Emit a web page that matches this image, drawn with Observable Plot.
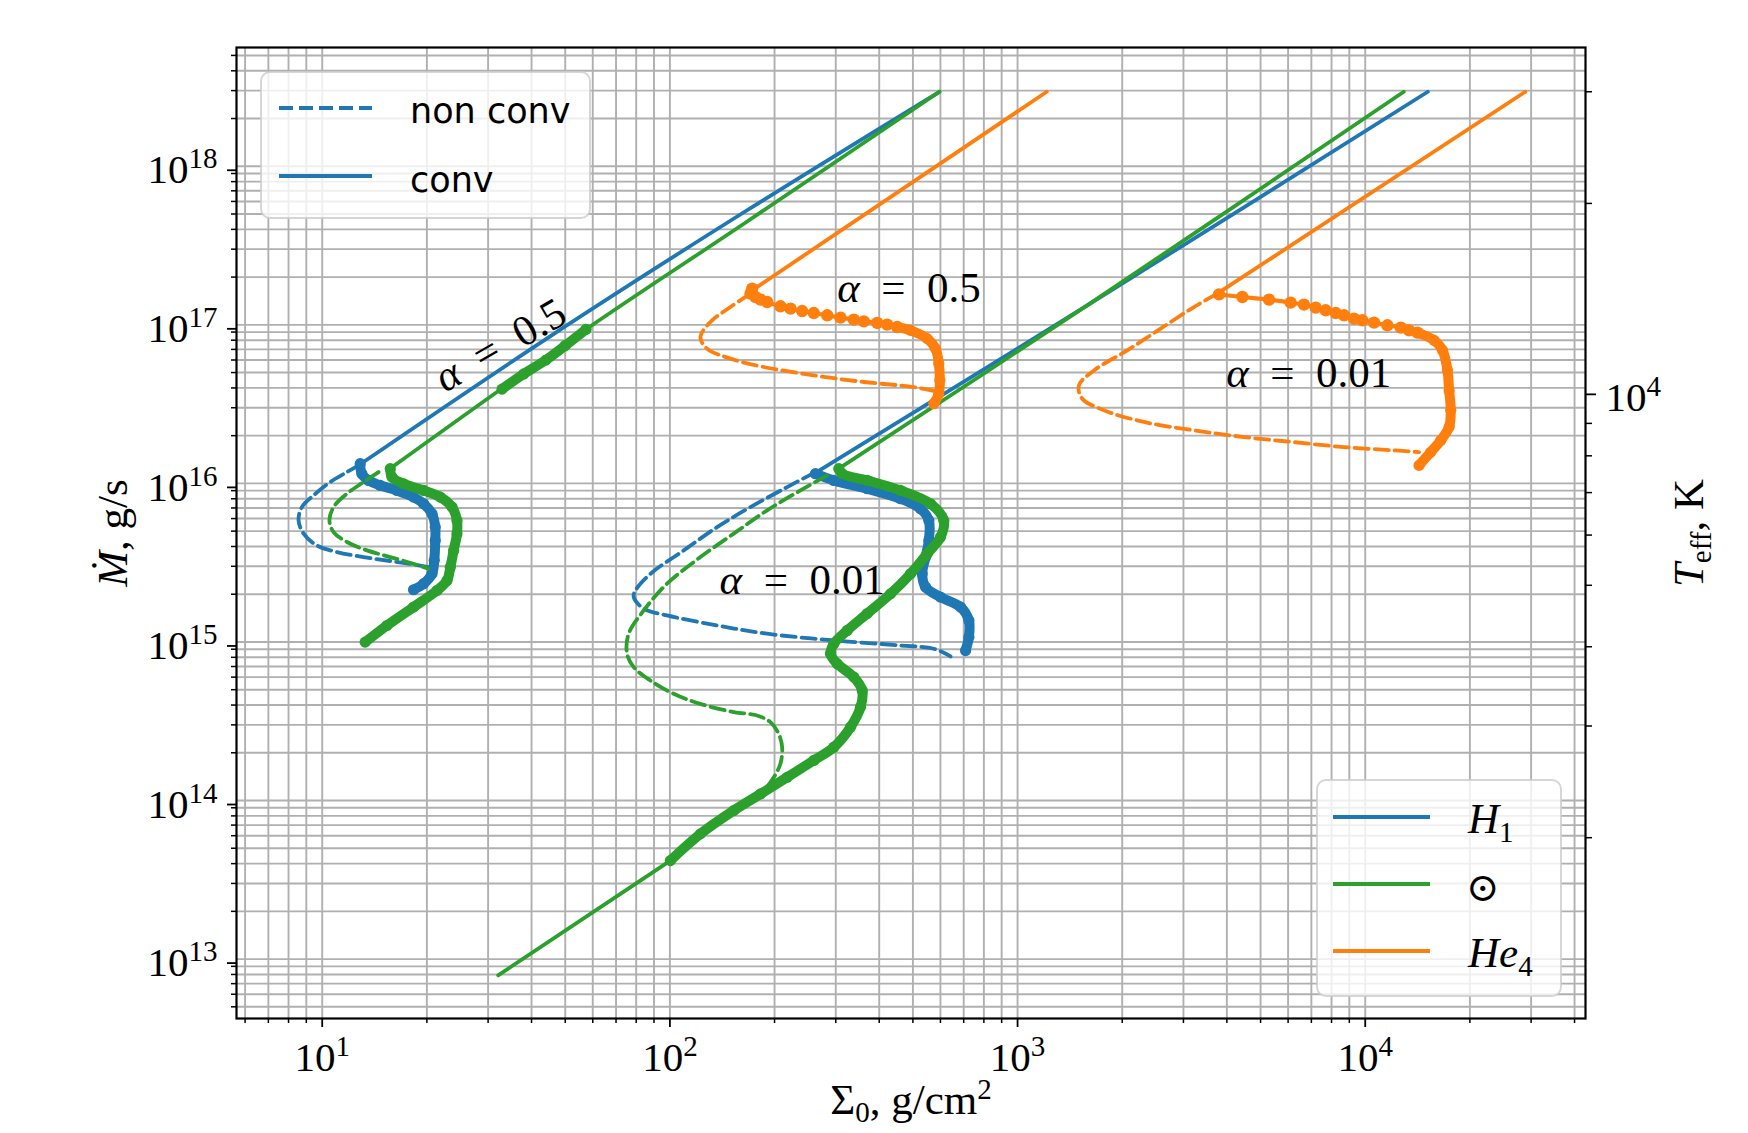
<!DOCTYPE html>
<html><head><meta charset="utf-8">
<script src="https://cdn.jsdelivr.net/npm/d3@7"></script>
<script src="https://cdn.jsdelivr.net/npm/@observablehq/plot@0.6"></script>
<style>
html,body{margin:0;padding:0;background:#fff;overflow:hidden;}
#wrap{position:relative;width:1748px;height:1133px;overflow:hidden;}
#wrap svg{position:absolute;left:0;top:0;}
</style></head><body><div id="wrap"></div>
<script>
// ---------- colours ----------
const blue = "#1f77b4", orange = "#ff7f0e", green = "#2ca02c";

// ---------- data : [Sigma0 (g/cm^2), Mdot (g/s)] ----------
// alpha = 0.5, H1
const h1_a05_nonconv = [[12.86,1.32e16],[11.78,1.178e16],[10.54,1.019e16],[9.44,8.4e15],[8.74,7.09e15],[8.55,5.84e15],[8.84,4.82e15],[9.65,4.06e15],[11.02,3.69e15],[13.15,3.43e15],[15.69,3.24e15],[18.31,3.08e15],[20.2,2.96e15]];
const h1_a05_conv = [[12.86,1.32e16],[45.7,8.59e16],[162.4,5.09e17],[596,2.95e18]];
const h1_a05_band = [[12.86,1.332e16],[13.0,1.151e16],[13.59,1.044e16],[14.69,9.71e15],[16.4,9.03e15],[18.31,8.19e15],[19.57,7.44e15],[20.69,6.44e15],[21.14,5.30e15],[21.14,4.37e15],[21.0,3.27e15],[20.69,2.69e15],[19.57,2.33e15],[18.31,2.135e15]];
// alpha = 0.5, solar
const sun_a05_nonconv = [[14.52,1.178e16],[13.15,1.019e16],[11.78,8.61e15],[10.78,7.09e15],[10.49,5.84e15],[10.78,4.93e15],[11.78,4.27e15],[13.45,3.78e15],[15.69,3.43e15],[18.31,3.11e15],[20.2,2.9e15]];
const sun_a05_conv = [[15.7,1.243e16],[57.4,9.37e16],[162.4,4.31e17],[596,2.95e18]];
const sun_a05_band = [[15.69,1.238e16],[15.87,1.096e16],[17.14,9.95e15],[19.57,9.03e15],[21.86,8.19e15],[23.62,7.09e15],[24.41,5.84e15],[24.41,4.82e15],[23.88,3.78e15],[23.36,2.96e15],[22.85,2.44e15],[21.38,2.11e15],[18.31,1.66e15],[15.35,1.27e15],[13.29,9.97e14]];
const sun_a05_band2 = [[32.9,3.93e16],[38,4.9e16],[44,6.0e16],[50,7.4e16],[57.4,9.37e16]];
// alpha = 0.5, He4
const he_a05_nonconv = [[170.5,1.573e17],[149.3,1.295e17],[130.8,1.042e17],[122.4,8.38e16],[127.9,7.08e16],[149.3,6.12e16],[186.2,5.42e16],[259.3,4.80e16],[361.2,4.36e16],[503.0,4.05e16],[593.6,3.77e16]];
const he_a05_conv = [[176,1.70e17],[1213,2.95e18]];
const he_a05_dots = [[172.4,1.692e17],[170.5,1.573e17],[176.2,1.498e17],[182.2,1.442e17],[190.4,1.393e17],[208,1.309e17],[222.3,1.265e17],[240.1,1.222e17],[259.3,1.187e17],[283.5,1.148e17],[309.5,1.110e17],[338,1.079e17],[361.2,1.052e17],[394.8,1.027e17],[421.7,1.003e17],[450.6,9.68e16]];
const he_a05_band = [[450.6,9.68e16],[492.2,9.23e16],[549.7,8.18e16],[580.8,7.08e16],[593.6,5.69e16],[597.6,4.47e16],[593.6,3.68e16],[574.2,3.18e16]];
// alpha = 0.01, H1
const h1_a001_nonconv = [[262.2,1.178e16],[217.4,9.48e15],[170.5,7.09e15],[136.7,5.30e15],[109.6,3.78e15],[87.9,2.69e15],[79.6,2.11e15],[78.7,1.92e15],[84.1,1.62e15],[98.1,1.47e15],[136.7,1.27e15],[190.4,1.127e15],[296.1,1.022e15],[460.7,9.5e14],[574.3,9.06e14],[641.7,8.1e14]];
const h1_a001_conv = [[262.2,1.165e16],[1570,1.308e17],[15140,2.95e18]];
const h1_a001_band = [[262.2,1.151e16],[296.1,1.044e16],[369.4,9.26e15],[460.7,8.0e15],[526,6.92e15],[555.7,5.84e15],[555.7,4.37e15],[543.6,3.43e15],[531.8,2.69e15],[543.6,2.22e15],[600,1.92e15],[685.4,1.66e15],[724.4,1.366e15],[724.4,1.072e15],[708.7,8.83e14]];
// alpha = 0.01, solar
const sun_a001_nonconv = [[283.5,1.123e16],[237.4,9.03e15],[190.4,6.76e15],[152.6,4.82e15],[122.4,3.43e15],[98.1,2.33e15],[84.1,1.58e15],[76.1,1.127e15],[75.3,8.43e14],[78.7,6.94e14],[87.9,5.71e14],[102.5,4.71e14],[122.4,4.07e14],[152.6,3.61e14],[178.2,3.44e14],[194.6,3.12e14],[205.6,2.63e14],[210.3,2.17e14],[208,1.71e14],[199,1.40e14],[186.2,1.156e14],[170.5,9.75e13],[152.6,8.65e13],[122.4,6.16e13],[100.3,4.18e13]];
const sun_a001_conv = [[306.1,1.238e16],[1570,1.308e17],[12910,2.95e18]];
const sun_a001_low = [[32.06,7.9e12],[100.3,4.18e13]];
const sun_a001_band = [[306.1,1.238e16],[313,1.151e16],[369.4,1.044e16],[460.7,9.03e15],[561.9,7.44e15],[613.7,5.84e15],[600,4.58e15],[549.7,3.60e15],[492.2,2.69e15],[431,2.01e15],[369.4,1.51e15],[323.6,1.182e15],[296.1,9.74e14],[289.7,8.43e14],[302.8,7.29e14],[338.1,6.0e14],[357.5,4.94e14],[353.4,3.88e14],[330.7,2.90e14],[296.1,2.17e14],[259.3,1.79e14],[217.4,1.40e14],[182.2,1.10e14],[152.6,8.65e13],[122.4,6.16e13],[100.3,4.18e13]];
// alpha = 0.01, He4
const he_a001_nonconv = [[3755,1.573e17],[3216,1.295e17],[2579,9.46e16],[2069,6.90e16],[1659,5.16e16],[1501,4.15e16],[1535,3.42e16],[1772,2.89e16],[2309,2.44e16],[3216,2.16e16],[4479,1.96e16],[6239,1.82e16],[8690,1.694e16],[12100,1.615e16],[14280,1.576e16]];
const he_a001_conv = [[3800,1.60e17],[28870,2.95e18]];
const he_a001_dots = [[3797,1.557e17],[4432,1.498e17],[5287,1.442e17],[6103,1.380e17],[6666,1.341e17],[7206,1.284e17],[7697,1.235e17],[8226,1.187e17],[8690,1.148e17],[9286,1.094e17],[9815,1.068e17],[10600,1.033e17],[11580,9.93e16],[12660,9.60e16],[13370,9.23e16],[14130,8.93e16]];
const he_a001_band = [[14130,8.93e16],[15780,7.98e16],[16690,6.90e16],[17240,5.16e16],[17430,3.86e16],[17620,2.89e16],[17430,2.27e16],[16500,1.87e16],[15440,1.576e16],[14280,1.299e16]];

// ---------- annotations ----------
const annotations = [
  {s: 32.5, m: 7.43e16, label: "α = 0.5", rotate: -30},
  {s: 487, m: 1.712e17, label: "α = 0.5", rotate: 0},
  {s: 240.1, m: 2.44e15, label: "α = 0.01", rotate: 0},
  {s: 6877, m: 4.94e16, label: "α = 0.01", rotate: 0}
];

// ---------- axes ----------
const xDomain = [5.668, 43010];
const yDomain = [4.22e12, 5.61e18];
const xMajor = [10, 100, 1000, 10000];
const yMajor = [1e13, 1e14, 1e15, 1e16, 1e17, 1e18];
const tempMajor = [10000];
const tempMinor = [2000, 3000, 4000, 5000, 6000, 7000, 8000, 9000, 20000, 30000];
const tempLabels = ["10^4"];
const legendStyle = ["non conv", "conv"];

const mFromT = T => Math.pow(10, 16.5615 + 4 * Math.log10(T / 1e4));

function logTicks(dom) {
  const out = [];
  for (let e = Math.floor(Math.log10(dom[0])); e <= Math.ceil(Math.log10(dom[1])); e++)
    for (let k = 1; k <= 9; k++) { const v = k * Math.pow(10, e); if (v >= dom[0] && v <= dom[1]) out.push(v); }
  return out;
}
const xGrid = logTicks(xDomain), yGrid = logTicks(yDomain);
const xMinor = xGrid.filter(v => !xMajor.includes(v));
const yMinor = yGrid.filter(v => !yMajor.some(t => Math.abs(t - v) / t < 1e-9));
const fmt = d => "10^" + Math.round(Math.log10(d));
const tempRows = tempMajor.map((t, i) => ({m: mFromT(t), label: tempLabels[i]}));

const X = d => d[0], Y = d => d[1];
const thin = 3.8, dash = "14,6";
function dashed(data, color) { return Plot.line(data, {x: X, y: Y, stroke: color, strokeWidth: thin, strokeDasharray: dash, curve: "catmull-rom"}); }
function solid(data, color) { return Plot.line(data, {x: X, y: Y, stroke: color, strokeWidth: thin, curve: "catmull-rom"}); }
function band(data, color) {
  return [Plot.line(data, {x: X, y: Y, stroke: color, strokeWidth: 10, strokeLinecap: "round", strokeLinejoin: "round", curve: "catmull-rom"}),
          Plot.dot(data, {x: X, y: Y, fill: color, r: 5.6})];
}
function dotted(data, color) {
  return [Plot.line(data, {x: X, y: Y, stroke: color, strokeWidth: 4.2, curve: "catmull-rom"}),
          Plot.dot(data, {x: X, y: Y, fill: color, r: 6.2})];
}

const serif = "'Liberation Serif', 'DejaVu Serif', serif";

const plot = Plot.plot({
  width: 1748, height: 1133,
  marginLeft: 236, marginRight: 163, marginTop: 47, marginBottom: 115,
  style: {fontFamily: serif, fontSize: "40px", background: "transparent", overflow: "visible"},
  x: {type: "log", domain: xDomain},
  y: {type: "log", domain: yDomain},
  marks: [
    Plot.ruleX(xGrid, {x: d => d, stroke: "#b0b0b0", strokeWidth: 1.9}),
    Plot.ruleY(yGrid, {y: d => d, stroke: "#b0b0b0", strokeWidth: 1.9}),
    // H1
    dashed(h1_a05_nonconv, blue), solid(h1_a05_conv, blue), band(h1_a05_band, blue),
    dashed(h1_a001_nonconv, blue), solid(h1_a001_conv, blue), band(h1_a001_band, blue),
    // solar
    dashed(sun_a05_nonconv, green), solid(sun_a05_conv, green), band(sun_a05_band, green), band(sun_a05_band2, green),
    dashed(sun_a001_nonconv, green), solid(sun_a001_conv, green), solid(sun_a001_low, green), band(sun_a001_band, green),
    // He4
    dashed(he_a05_nonconv, orange), solid(he_a05_conv, orange), dotted(he_a05_dots, orange), band(he_a05_band, orange),
    dashed(he_a001_nonconv, orange), solid(he_a001_conv, orange), dotted(he_a001_dots, orange), band(he_a001_band, orange),
    // annotations
    Plot.text(annotations, {x: "s", y: "m", text: "label", rotate: "rotate", fontSize: 43, fontFamily: serif, fill: "black", textAnchor: "middle", lineAnchor: "middle"}),
    Plot.frame({stroke: "black", strokeWidth: 2.2}),
    // axes
    Plot.axisX({ticks: xMajor, tickSize: 9, tickPadding: 14, tickFormat: fmt, label: null, fontSize: 41, fontFamily: serif, strokeWidth: 1.8}),
    Plot.axisX({ticks: xMinor, tickSize: 5, tickFormat: () => "", label: null, strokeWidth: 1.5}),
    Plot.axisY({ticks: yMajor, tickSize: 9, tickPadding: 10, tickFormat: fmt, label: null, fontSize: 41, fontFamily: serif, dy: 4, strokeWidth: 1.8}),
    Plot.axisY({ticks: yMinor, tickSize: 5, tickFormat: () => "", label: null, strokeWidth: 1.5}),
    Plot.axisY({anchor: "right", ticks: tempRows.map(d => d.m), tickSize: 10, tickFormat: () => "", label: null, strokeWidth: 1.8}),
    Plot.axisY({anchor: "right", ticks: tempMinor.map(mFromT), tickSize: 6, tickFormat: () => "", label: null, strokeWidth: 1.5}),
    Plot.text(tempRows, {y: "m", text: "label", frameAnchor: "right", dx: 20, dy: 4, textAnchor: "start", lineAnchor: "middle", fontSize: 41, fontFamily: serif, fill: "black"}),
    // axis titles
    Plot.text(["LBL_MDOT"], {text: d => d, frameAnchor: "left", dx: -123, rotate: -90, textAnchor: "middle", lineAnchor: "middle", fontSize: 43, fontFamily: serif}),
    Plot.text(["LBL_SIGMA"], {text: d => d, frameAnchor: "bottom", dy: 82, textAnchor: "middle", lineAnchor: "middle", fontSize: 43, fontFamily: serif}),
    Plot.text(["LBL_TEFF"], {text: d => d, frameAnchor: "right", dx: 104, rotate: -90, textAnchor: "middle", lineAnchor: "middle", fontSize: 43, fontFamily: serif})
  ]
});
plot.style.maxWidth = "none";
plot.style.height = "1133px";

// ---------- rich text (sub/superscripts, italics) ----------
const richMap = {
  "LBL_MDOT": [{t: "Ṁ", it: true}, {t: ", g/s"}],
  "LBL_SIGMA": [{t: "Σ"}, {t: "0", sub: true}, {t: ", g/cm"}, {t: "2", sup: true}],
  "LBL_TEFF": [{t: "T", it: true}, {t: "eff", sub: true}, {t: ", K"}],
  "α = 0.5": [{t: "α", it: true}, {t: "\u2002=\u2002"}, {t: "0.5"}],
  "α = 0.01": [{t: "α", it: true}, {t: "\u2002=\u2002"}, {t: "0.01"}]
};
function richify(root) {
  d3.select(root).selectAll("text").filter(function () { return this.textContent === ""; }).remove();
  d3.select(root).selectAll("text").each(function () {
    const key = this.textContent;
    let parts = richMap[key];
    const m = /^10\^(\d+)$/.exec(key);
    if (m) parts = [{t: "10"}, {t: m[1], sup: true}];
    if (!parts) return;
    const el = d3.select(this);
    el.text("");
    let cur = 0;
    for (const p of parts) {
      const shift = p.sup ? -15 : p.sub ? 8 : 0;
      const ts = el.append("tspan").text(p.t);
      if (shift !== cur) { ts.attr("dy", shift - cur); cur = shift; }
      if (p.sup || p.sub) ts.attr("font-size", 29);
      if (p.it) ts.attr("font-style", "italic");
    }
  });
}
richify(plot);

const wrap = document.getElementById("wrap");
wrap.appendChild(plot);

// ---------- legends (overlay) ----------
const ov = d3.select(wrap).append("svg").attr("width", 1748).attr("height", 1133).style("pointer-events", "none");
function box(x, y, w, h) {
  ov.append("rect").attr("x", x).attr("y", y).attr("width", w).attr("height", h).attr("rx", 9)
    .attr("fill", "white").attr("fill-opacity", 0.8).attr("stroke", "#cccccc").attr("stroke-opacity", 0.8).attr("stroke-width", 2);
}
function sample(x1, x2, y, color, dashArr) {
  const l = ov.append("line").attr("x1", x1).attr("x2", x2).attr("y1", y).attr("y2", y).attr("stroke", color).attr("stroke-width", thin);
  if (dashArr) l.attr("stroke-dasharray", dashArr);
}
// legend 1: line styles
box(261, 72, 329, 146);
sample(279, 372, 108, blue, dash);
sample(279, 372, 176, blue, null);
const sans = "'DejaVu Sans', sans-serif";
ov.append("text").attr("x", 410).attr("y", 123).attr("font-family", sans).attr("font-size", 35).text(legendStyle[0]);
ov.append("text").attr("x", 410).attr("y", 191.5).attr("font-family", sans).attr("font-size", 35).text(legendStyle[1]);
// legend 2: compositions
box(1317, 780, 244, 216);
sample(1333, 1430, 817, blue, null);
sample(1333, 1430, 884, green, null);
sample(1333, 1430, 951, orange, null);
const t1 = ov.append("text").attr("x", 1468).attr("y", 833).attr("font-family", serif).attr("font-size", 43);
t1.append("tspan").attr("font-style", "italic").text("H");
t1.append("tspan").attr("font-size", 29).attr("dy", 9).text("1");
ov.append("text").attr("x", 1466).attr("y", 901).attr("font-family", "'DejaVu Serif', serif").attr("font-size", 40).text("⊙");
const t3 = ov.append("text").attr("x", 1468).attr("y", 967).attr("font-family", serif).attr("font-size", 43);
t3.append("tspan").attr("font-style", "italic").text("He");
t3.append("tspan").attr("font-size", 29).attr("dy", 9).text("4");
</script></body></html>
